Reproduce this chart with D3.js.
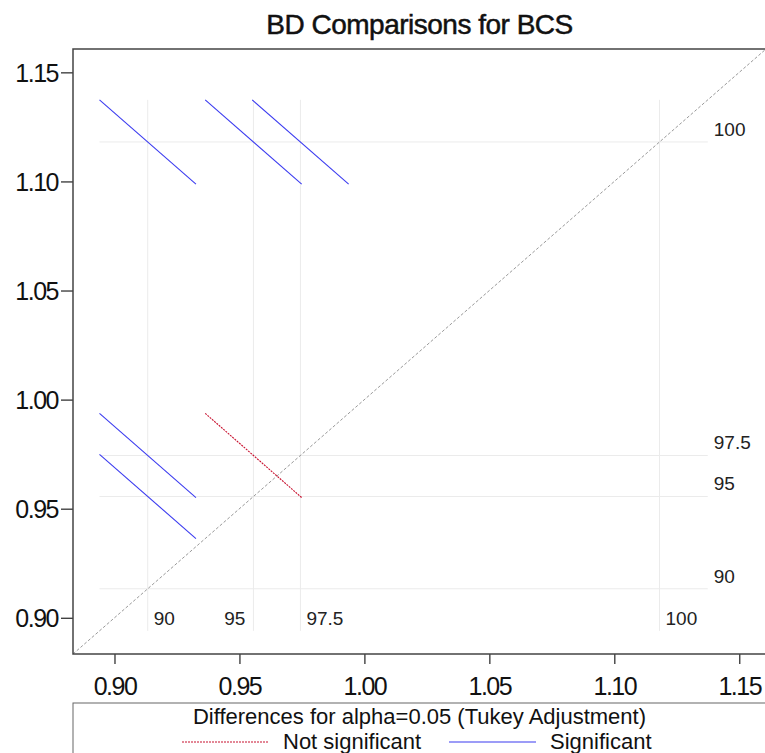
<!DOCTYPE html>
<html>
<head>
<meta charset="utf-8">
<script src="https://cdn.jsdelivr.net/npm/d3@7"></script>
<style>
  body { margin: 0; background: #fff; }
  svg { display: block; font-family: "Liberation Sans", Arial, sans-serif; }
</style>
</head>
<body>
<svg id="chart" width="765" height="753"></svg>
<script>
// BCS least-squares means by BD level
const levels = ["90", "95", "97.5", "100"];
const lsmeans = [0.9133, 0.9556, 0.9744, 1.1181];

// pairwise comparisons (index into levels), CI half width of the difference, significance
const pairA = [0, 1, 2, 0, 0, 1];
const pairB = [3, 3, 3, 2, 1, 2];
const ciHalf = [0.0386, 0.0386, 0.0386, 0.0386, 0.0386, 0.0386];
const significant = [true, true, true, true, true, false];

const axisTicks = [0.90, 0.95, 1.00, 1.05, 1.10, 1.15];
const domain = [0.8834, 1.1607];

const svg = d3.select("#chart");
const plotL = 73, plotT = 49, plotR = 766, plotB = 654;

const x = d3.scaleLinear().domain(domain).range([plotL, plotR]);
const y = d3.scaleLinear().domain(domain).range([plotB, plotT]);

const h = d3.max(ciHalf) / 2;
const refMin = d3.min(lsmeans) - h;
const refMax = d3.max(lsmeans) + h;

// title
svg.append("text")
    .attr("x", (plotL + plotR) / 2)
    .attr("y", 34)
    .attr("text-anchor", "middle")
    .attr("font-size", 28)
    .attr("letter-spacing", -0.5)
    .attr("fill", "#111")
    .attr("stroke", "#111").attr("stroke-width", 0.5)
    .text("BD Comparisons for BCS");

// reference lines
svg.append("g").selectAll("line.v")
    .data(lsmeans)
    .enter().append("line")
    .attr("x1", d => x(d)).attr("x2", d => x(d))
    .attr("y1", y(refMax)).attr("y2", y(refMin))
    .attr("stroke", "#ebebeb").attr("stroke-width", 1);

svg.append("g").selectAll("line.h")
    .data(lsmeans)
    .enter().append("line")
    .attr("y1", d => y(d)).attr("y2", d => y(d))
    .attr("x1", x(refMin)).attr("x2", x(refMax))
    .attr("stroke", "#ebebeb").attr("stroke-width", 1);

// level labels along the bottom and right
const labelLeft = { "95": true };
svg.append("g").selectAll("text")
    .data(levels)
    .enter().append("text")
    .attr("x", (d, i) => labelLeft[d] ? x(lsmeans[i]) - 8 : x(lsmeans[i]) + 6)
    .attr("y", y(refMin) - 6)
    .attr("text-anchor", d => labelLeft[d] ? "end" : "start")
    .attr("font-size", 19)
    .attr("fill", "#222")
    .text(d => d);

svg.append("g").selectAll("text")
    .data(levels)
    .enter().append("text")
    .attr("x", x(refMax) + 6)
    .attr("y", (d, i) => y(lsmeans[i]) - 6)
    .attr("font-size", 19)
    .attr("fill", "#222")
    .text(d => d);

// diagonal
svg.append("line")
    .attr("x1", x(domain[0])).attr("y1", y(domain[0]))
    .attr("x2", x(domain[1])).attr("y2", y(domain[1]))
    .attr("stroke", "#999").attr("stroke-width", 1)
    .attr("stroke-dasharray", "3,2");

// comparison segments
const segs = pairA.map((a, i) => ({
    cx: lsmeans[a], cy: lsmeans[pairB[i]], h: ciHalf[i] / 2, sig: significant[i]
}));

svg.append("g").selectAll("line")
    .data(segs)
    .enter().append("line")
    .attr("x1", d => x(d.cx - d.h)).attr("y1", d => y(d.cy + d.h))
    .attr("x2", d => x(d.cx + d.h)).attr("y2", d => y(d.cy - d.h))
    .attr("stroke", d => d.sig ? "#3b3bf0" : "#c8102e")
    .attr("stroke-width", 1.1)
    .attr("stroke-dasharray", d => d.sig ? null : "2,1");

// axes
const xAxis = svg.append("g")
    .attr("transform", `translate(0,${plotB})`)
    .call(d3.axisBottom(x).tickValues(axisTicks).tickFormat(d3.format(".2f")).tickSize(10).tickPadding(13));
const yAxis = svg.append("g")
    .attr("transform", `translate(${plotL},0)`)
    .call(d3.axisLeft(y).tickValues(axisTicks).tickFormat(d3.format(".2f")).tickSize(12).tickPadding(3));

[xAxis, yAxis].forEach(g => {
    g.select(".domain").remove();
    g.selectAll("line").attr("stroke", "#333").attr("stroke-width", 1.3);
    g.selectAll("text")
        .attr("font-size", 25)
        .attr("letter-spacing", -1.5)
        .attr("fill", "#111")
        .attr("font-family", "'Liberation Sans', Arial, sans-serif");
});
yAxis.selectAll("text").attr("dy", "0.36em");

// frame
svg.append("path")
    .attr("d", `M${plotR},${plotT}H${plotL}V${plotB}H${plotR}`)
    .attr("fill", "none").attr("stroke", "#444").attr("stroke-width", 1.5);

// legend
const lg = svg.append("g");
lg.append("rect")
    .attr("x", plotL).attr("y", 703)
    .attr("width", plotR - plotL).attr("height", 60)
    .attr("fill", "none").attr("stroke", "#666").attr("stroke-width", 1);
lg.append("text")
    .attr("x", (plotL + plotR) / 2).attr("y", 724)
    .attr("text-anchor", "middle")
    .attr("font-size", 22)
    .attr("fill", "#111")
    .text("Differences for alpha=0.05 (Tukey Adjustment)");

const legendItems = [
    { label: "Not significant", color: "#c8102e", dash: "2,1", x0: 182 },
    { label: "Significant", color: "#3b3bf0", dash: null, x0: 449 }
];
legendItems.forEach(it => {
    lg.append("line")
        .attr("x1", it.x0).attr("x2", it.x0 + 87)
        .attr("y1", 742).attr("y2", 742)
        .attr("stroke", it.color).attr("stroke-width", 1.1)
        .attr("stroke-dasharray", it.dash);
    lg.append("text")
        .attr("x", it.x0 + 101).attr("y", 749)
        .attr("font-size", 22)
        .attr("fill", "#111")
        .text(it.label);
});
</script>
</body>
</html>
